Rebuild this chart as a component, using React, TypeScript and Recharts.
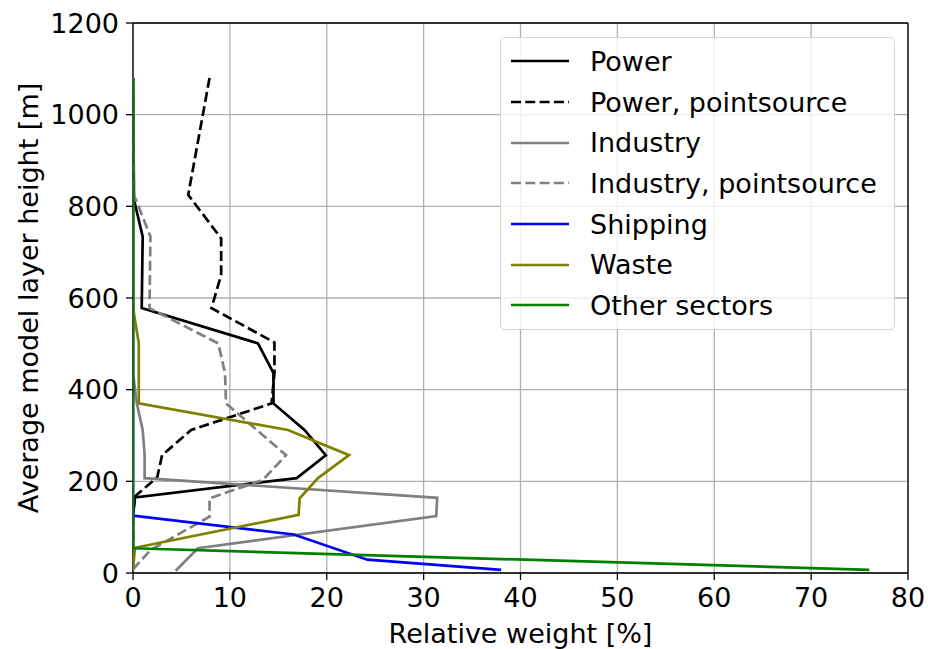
import { ScatterChart, Scatter, XAxis, YAxis, CartesianGrid, Legend, ReferenceLine } from 'recharts'

// vertical emission profiles: relative weight [%] at each average layer height [m]
const powerArea = [
  { w: 0, h: 1080 }, { w: 0.1, h: 815 }, { w: 1.0, h: 734 }, { w: 0.9, h: 578 },
  { w: 12.9, h: 501 }, { w: 14.5, h: 436 }, { w: 14.5, h: 370 }, { w: 17.7, h: 312 },
  { w: 19.9, h: 257 }, { w: 16.9, h: 207 }, { w: 0.2, h: 165 }, { w: 0, h: 125 },
  { w: 0, h: 55 }, { w: 0, h: 8 },
]
const powerPoint = [
  { w: 7.9, h: 1080 }, { w: 5.7, h: 825 }, { w: 9.1, h: 730 }, { w: 9.1, h: 650 },
  { w: 8.1, h: 578 }, { w: 14.6, h: 503 }, { w: 14.6, h: 436 }, { w: 14.3, h: 370 },
  { w: 6.0, h: 312 }, { w: 3.0, h: 257 }, { w: 2.5, h: 209 }, { w: 0.2, h: 167 },
  { w: 0, h: 125 }, { w: 0, h: 55 }, { w: 0, h: 8 },
]
const industryArea = [
  { w: 0, h: 1080 }, { w: 0, h: 825 }, { w: 0, h: 578 }, { w: 0, h: 436 },
  { w: 0.4, h: 370 }, { w: 1.0, h: 312 }, { w: 1.2, h: 257 }, { w: 1.2, h: 207 },
  { w: 31.4, h: 164 }, { w: 31.3, h: 124 }, { w: 6.7, h: 54 }, { w: 4.4, h: 5 },
]
const industryPoint = [
  { w: 0, h: 1080 }, { w: 0.1, h: 825 }, { w: 1.8, h: 734 }, { w: 1.7, h: 578 },
  { w: 8.8, h: 501 }, { w: 9.5, h: 436 }, { w: 9.6, h: 370 }, { w: 15.8, h: 257 },
  { w: 13.4, h: 203 }, { w: 7.9, h: 163 }, { w: 7.9, h: 123 }, { w: 1.8, h: 50 },
  { w: 0, h: 8 },
]
const shipping = [
  { w: 0, h: 1080 }, { w: 0, h: 125 }, { w: 16.6, h: 84 }, { w: 24.2, h: 29 }, { w: 38.0, h: 7 },
]
const waste = [
  { w: 0, h: 1080 }, { w: 0, h: 578 }, { w: 0.6, h: 501 }, { w: 0.6, h: 370 },
  { w: 16.0, h: 312 }, { w: 22.3, h: 257 }, { w: 19.1, h: 207 }, { w: 17.2, h: 163 },
  { w: 17.1, h: 127 }, { w: 0.2, h: 55 }, { w: 0, h: 8 },
]
const otherSectors = [
  { w: 0, h: 1080 }, { w: 0, h: 54 }, { w: 76.0, h: 7 },
]

const xTicks = [0, 10, 20, 30, 40, 50, 60, 70, 80]
const yTicks = [0, 200, 400, 600, 800, 1000, 1200]

const DASH = '10 4.3'
const series = [
  { name: 'Power', data: powerArea, color: '#000000', dash: undefined },
  { name: 'Power, pointsource', data: powerPoint, color: '#000000', dash: DASH },
  { name: 'Industry', data: industryArea, color: '#808080', dash: undefined },
  { name: 'Industry, pointsource', data: industryPoint, color: '#808080', dash: DASH },
  { name: 'Shipping', data: shipping, color: '#0000ff', dash: undefined },
  { name: 'Waste', data: waste, color: '#808000', dash: undefined },
  { name: 'Other sectors', data: otherSectors, color: '#008000', dash: undefined },
]

const FONT = 27
const LW = 2.7
const noDot = () => <g />

function LegendBox() {
  return (
    <div
      style={{
        boxSizing: 'border-box',
        width: 395,
        height: 293,
        paddingTop: 3,
        background: 'rgba(255,255,255,0.8)',
        border: '1.3px solid #d5d5d5',
        borderRadius: 5,
        fontSize: FONT,
        color: '#000',
      }}
    >
      {series.map(s => (
        <div key={s.name} style={{ display: 'flex', alignItems: 'center', height: 40.7 }}>
          <svg width={89} height={10} style={{ flexShrink: 0 }}>
            <line x1={10} x2={68} y1={5} y2={5} stroke={s.color} strokeWidth={LW} strokeDasharray={s.dash} />
          </svg>
          <span style={{ whiteSpace: 'nowrap' }}>{s.name}</span>
        </div>
      ))}
    </div>
  )
}

export default function App() {
  return (
    <div style={{ position: 'absolute', left: 0, top: 0, fontFamily: '"DejaVu Sans", sans-serif', background: '#fff' }}>
      <ScatterChart width={928} height={649} margin={{ top: 23, right: 20, left: 0, bottom: 0 }}>
        <CartesianGrid stroke="#b0b0b0" strokeWidth={1.3} horizontalValues={yTicks} verticalValues={xTicks} />
        <XAxis
          type="number"
          dataKey="w"
          domain={[0, 80]}
          ticks={xTicks}
          interval={0}
          height={76}
          stroke="#000"
          strokeWidth={1.3}
          tickSize={7}
          tickMargin={8}
          tick={{ fill: '#000', fontSize: FONT }}
          allowDataOverflow
          label={{
            content: ({ viewBox }: any) => (
              <text x={viewBox.x + viewBox.width / 2} y={viewBox.y + 70} textAnchor="middle" fontSize={FONT} fill="#000">
                Relative weight [%]
              </text>
            ),
          }}
        />
        <YAxis
          type="number"
          dataKey="h"
          domain={[0, 1200]}
          ticks={yTicks}
          interval={0}
          width={133}
          stroke="#000"
          strokeWidth={1.3}
          tickSize={7}
          tickMargin={7}
          tick={{ fill: '#000', fontSize: FONT }}
          allowDataOverflow
          label={{
            content: ({ viewBox }: any) => {
              const cx = viewBox.x + 28
              const cy = viewBox.y + viewBox.height / 2
              return (
                <text x={cx} y={cy} transform={`rotate(-90, ${cx}, ${cy})`} textAnchor="middle" dominantBaseline="central" fontSize={FONT} fill="#000">
                  Average model layer height [m]
                </text>
              )
            },
          }}
        />
        <ReferenceLine x={80} stroke="#000" strokeWidth={1.3} />
        <ReferenceLine y={1200} stroke="#000" strokeWidth={1.3} />
        {series.map(s => (
          <Scatter
            key={s.name}
            name={s.name}
            data={s.data}
            fill={s.color}
            shape={noDot}
            line={{ stroke: s.color, strokeWidth: LW, strokeDasharray: s.dash, fill: 'none' }}
            lineType="joint"
            isAnimationActive={false}
          />
        ))}
        <Legend
          layout="horizontal"
          verticalAlign="middle"
          align="center"
          content={() => <LegendBox />}
          wrapperStyle={{ position: 'absolute', left: 500, top: 37, width: 395, height: 293 }}
        />
      </ScatterChart>
    </div>
  )
}
